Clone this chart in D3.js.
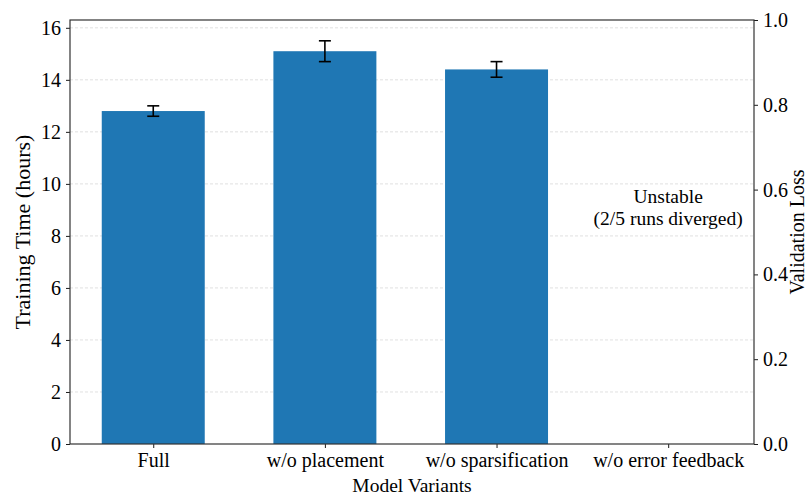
<!DOCTYPE html>
<html>
<head>
<meta charset="UTF-8">
<script src="https://d3js.org/d3.v7.min.js"></script>
<style>
    body { margin: 0; background: #fff; }
    text { font-family: "Liberation Serif", "Times New Roman", serif; fill: #000; }
</style>
</head>
<body>
<div id="chart"></div>
<script>
    // data
    const variants = ["Full", "w/o placement", "w/o sparsification", "w/o error feedback"];
    const trainHours = [12.8, 15.1, 14.4, null];   // last run diverged, no bar
    const hoursErr = [0.2, 0.4, 0.3, null];
    const leftTicks = [0, 2, 4, 6, 8, 10, 12, 14, 16];
    const rightTicks = [0.0, 0.2, 0.4, 0.6, 0.8, 1.0];
    const note = ["Unstable", "(2/5 runs diverged)"];

    const W = 807, H = 495;
    const margin = { top: 20, right: 53, bottom: 51, left: 70 };
    const width = W - margin.left - margin.right,
          height = H - margin.top - margin.bottom;

    const svg = d3.select("#chart").append("svg")
        .attr("width", W).attr("height", H);
    const g = svg.append("g").attr("transform", `translate(${margin.left},${margin.top})`);

    const x = d3.scaleLinear().domain([-0.485, 3.5]).range([0, width]);
    const y = d3.scaleLinear().domain([0, 16.3]).range([height, 0]);
    const y2 = d3.scaleLinear().domain([0, 1]).range([height, 0]);
    const barW = x(0.6) - x(0);

    // grid
    g.selectAll(".grid").data(leftTicks.slice(1)).enter().append("line")
        .attr("x1", 0).attr("x2", width)
        .attr("y1", d => y(d)).attr("y2", d => y(d))
        .attr("stroke", "#d0d0d0").attr("stroke-width", 0.8)
        .attr("stroke-dasharray", "3,2").attr("opacity", 0.8);

    const data = variants.map((v, i) => ({ v, i, h: trainHours[i], e: hoursErr[i] }))
        .filter(d => d.h != null);

    g.selectAll(".bar").data(data).enter().append("rect")
        .attr("x", d => x(d.i) - barW / 2)
        .attr("y", d => y(d.h))
        .attr("width", barW)
        .attr("height", d => height - y(d.h))
        .attr("fill", "#1f77b4");

    // error bars
    const eb = g.selectAll(".err").data(data).enter().append("g");
    eb.append("line")
        .attr("x1", d => x(d.i)).attr("x2", d => x(d.i))
        .attr("y1", d => y(d.h - d.e)).attr("y2", d => y(d.h + d.e))
        .attr("stroke", "#000").attr("stroke-width", 1.6);
    [-1, 1].forEach(s => {
        eb.append("line")
            .attr("x1", d => x(d.i) - 6).attr("x2", d => x(d.i) + 6)
            .attr("y1", d => y(d.h + s * d.e)).attr("y2", d => y(d.h + s * d.e))
            .attr("stroke", "#000").attr("stroke-width", 1.6);
    });

    // annotation
    const t = g.append("text")
        .attr("x", x(3)).attr("y", y2(0.6) + 7)
        .attr("text-anchor", "middle")
        .style("font-size", "19.5px");
    note.forEach((line, k) => {
        t.append("tspan").attr("x", x(3)).attr("dy", k === 0 ? "0.35em" : "1.1em").text(line);
    });

    // axes
    const styleAxis = sel => {
        sel.select(".domain").remove();
        sel.selectAll(".tick line").attr("stroke", "#000").attr("stroke-width", 0.9);
        sel.selectAll(".tick text").style("font-size", "20px").style("font-family", "Liberation Serif, serif");
    };

    g.append("g").attr("transform", `translate(0,${height})`)
        .call(d3.axisBottom(x).tickValues(d3.range(variants.length))
            .tickFormat(i => variants[i]).tickSize(4).tickPadding(5))
        .call(styleAxis);

    g.append("g")
        .call(d3.axisLeft(y).tickValues(leftTicks).tickSize(4).tickPadding(5))
        .call(styleAxis);

    g.append("g").attr("transform", `translate(${width},0)`)
        .call(d3.axisRight(y2).tickValues(rightTicks).tickFormat(d3.format(".1f")).tickSize(4).tickPadding(5))
        .call(styleAxis);

    // frame
    g.append("rect").attr("width", width).attr("height", height)
        .attr("fill", "none").attr("stroke", "#333").attr("stroke-width", 1.2);

    // labels
    svg.append("text")
        .attr("transform", `translate(22,${margin.top + height / 2}) rotate(-90)`)
        .attr("text-anchor", "middle").attr("dy", "0.35em")
        .style("font-size", "22px").text("Training Time (hours)");

    svg.append("text")
        .attr("transform", `translate(797,${margin.top + height / 2}) rotate(-90)`)
        .attr("text-anchor", "middle").attr("dy", "0.35em")
        .style("font-size", "20px").text("Validation Loss");

    svg.append("text")
        .attr("x", margin.left + width / 2).attr("y", 492)
        .attr("text-anchor", "middle")
        .style("font-size", "19.5px").text("Model Variants");
</script>
</body>
</html>
